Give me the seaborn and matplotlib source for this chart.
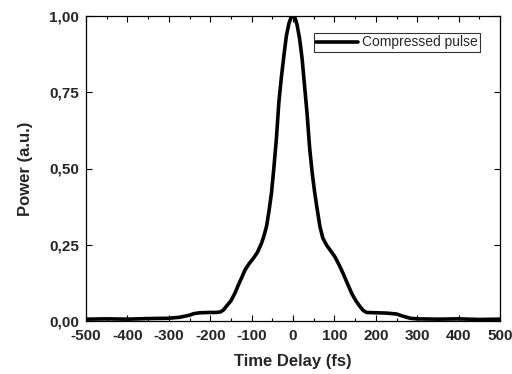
import matplotlib
matplotlib.use("Agg")
import matplotlib.pyplot as plt
import seaborn as sns
import numpy as np
from matplotlib.ticker import MultipleLocator

# Data
time_fs = [-500, -450, -400, -350, -300, -275, -260, -250, -240, -225, -200, -185,
           -175, -168, -160, -150, -140, -132, -124, -116, -106, -96, -86, -76,
           -70, -64, -58, -52, -46, -40, -34, -28, -22, -16, -10, -5, 0, 5, 10,
           16, 22, 28, 34, 40, 46, 52, 58, 65, 72, 81, 91, 101, 111, 121, 131,
           142, 152, 162, 170, 178, 200, 225, 250, 265, 283, 300, 350, 400, 450, 500]
power = [0.006, 0.007, 0.006, 0.008, 0.009, 0.012, 0.016, 0.019, 0.024, 0.027, 0.028, 0.028,
         0.030, 0.036, 0.050, 0.066, 0.092, 0.118, 0.142, 0.167, 0.188, 0.205, 0.225, 0.255,
         0.280, 0.310, 0.360, 0.420, 0.505, 0.600, 0.720, 0.800, 0.870, 0.935, 0.975, 0.994, 1.000, 0.994, 0.970,
         0.925, 0.860, 0.770, 0.680, 0.570, 0.490, 0.425, 0.370, 0.310, 0.272, 0.249, 0.230, 0.211, 0.185, 0.156, 0.124,
         0.090, 0.066, 0.047, 0.034, 0.028, 0.027, 0.026, 0.023, 0.016, 0.009, 0.007, 0.006, 0.007, 0.005, 0.006]
series_label = "Compressed pulse"
x_ticks = [-500, -400, -300, -200, -100, 0, 100, 200, 300, 400, 500]
x_tick_labels = ["-500", "-400", "-300", "-200", "-100", "0", "100", "200", "300", "400", "500"]
y_ticks = [0.0, 0.25, 0.5, 0.75, 1.0]
y_tick_labels = ["0,00", "0,25", "0,50", "0,75", "1,00"]

sns.set_style("ticks")
plt.rcParams['font.family'] = ['Liberation Sans', 'DejaVu Sans']

fig = plt.figure(figsize=(5.12, 3.74), dpi=100)
ax = fig.add_axes([86/512, 1-321/374, (500-86)/512, (321-16)/374])

sns.lineplot(x=time_fs, y=power, ax=ax, color="black", linewidth=2.6,
             label=series_label, sort=False)

ax.set_xlim(-500, 500)
ax.set_ylim(0, 1.0)
ax.set_xticks(x_ticks)
ax.set_xticklabels(x_tick_labels, fontsize=11, fontweight="bold")
ax.set_yticks(y_ticks)
ax.set_yticklabels(y_tick_labels, fontsize=11, fontweight="bold")
ax.xaxis.set_minor_locator(MultipleLocator(50))
ax.tick_params(which="both", direction="in", top=True, right=True, color="black", width=0.8)
ax.tick_params(which="major", length=4)
ax.tick_params(which="minor", length=2.5)
ax.tick_params(axis="x", which="major", pad=5.5)
ax.tick_params(axis="y", which="major", pad=5)

for s in ax.spines.values():
    s.set_color("black")
    s.set_linewidth(0.9)

ax.set_xlabel("Time Delay (fs)", fontsize=12, fontweight="bold", labelpad=8)
ax.set_ylabel("Power (a.u.)", fontsize=12, fontweight="bold", labelpad=12)

leg = ax.legend(loc="upper right", bbox_to_anchor=(0.952, 0.943), borderaxespad=0,
                fontsize=10, frameon=True, fancybox=False, handlelength=3.0,
                borderpad=0.15, handletextpad=0.3)
leg.get_frame().set_edgecolor("black")
leg.get_frame().set_linewidth(0.8)

fig.savefig("out.png", dpi=100)
